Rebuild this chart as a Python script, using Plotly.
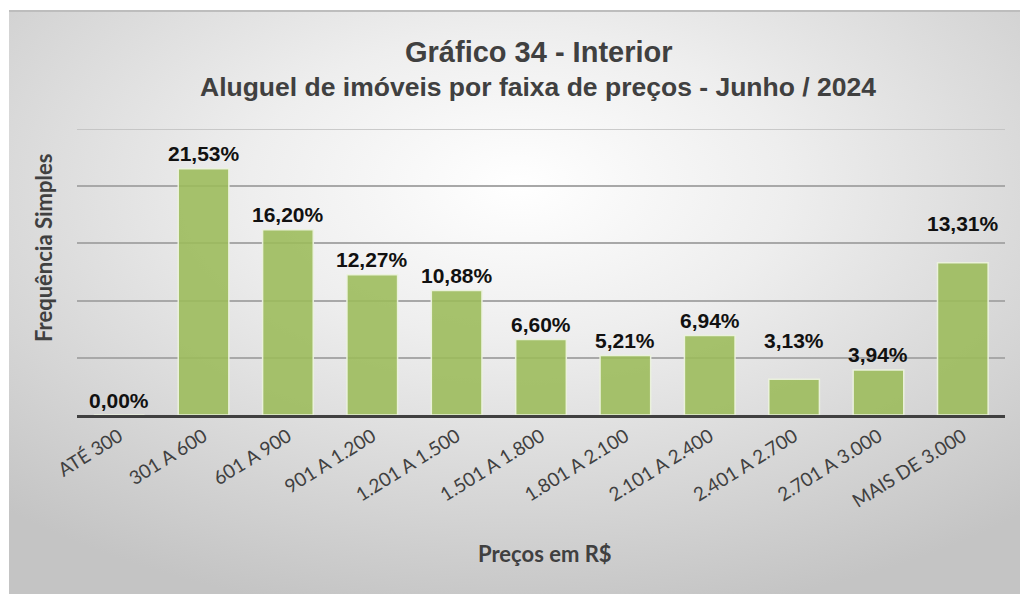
import base64
import plotly.graph_objects as go

# ---- data ----
categories = ["ATÉ 300", "301 A 600", "601 A 900", "901 A 1.200", "1.201 A 1.500",
              "1.501 A 1.800", "1.801 A 2.100", "2.101 A 2.400", "2.401 A 2.700",
              "2.701 A 3.000", "MAIS DE 3.000"]
values = [0.00, 21.53, 16.20, 12.27, 10.88, 6.60, 5.21, 6.94, 3.13, 3.94, 13.31]

title_text = "Gráfico 34 - Interior"
subtitle_text = "Aluguel de imóveis por faixa de preços - Junho / 2024"
x_title = "Preços em R$"
y_title = "Frequência Simples"

Y_MAX = 25
Y_STEP = 5

# ---- layout geometry (pixels, in page coordinates; page has an 8px body margin) ----
OFF = 8
W, H = 1028 - OFF, 594 - OFF
PL, PR, PT, PB = 77, 1005, 129, 415   # plot area in page coordinates
ML, MR, MT, MB = PL - OFF, (1028 - PR), PT - OFF, (594 - PB)
PW, PH = PR - PL, PB - PT

def px(xp):
    return (xp - PL) / PW

def py(yp):
    return (PB - yp) / PH

# extra label lift for labels that were moved in the original
extra_lift = {"2.401 A 2.700": 24, "MAIS DE 3.000": 24}

svg = (
    "<svg xmlns='http://www.w3.org/2000/svg' width='1020' height='584' preserveAspectRatio='none'>"
    "<defs><radialGradient id='g' cx='0.5' cy='0.3' r='0.75'>"
    "<stop offset='0' stop-color='#ffffff'/>"
    "<stop offset='0.35' stop-color='#eeeeee'/>"
    "<stop offset='1' stop-color='#c4c4c4'/>"
    "</radialGradient></defs>"
    "<rect width='1020' height='584' fill='url(#g)'/></svg>"
)
svg_uri = "data:image/svg+xml;base64," + base64.b64encode(svg.encode()).decode()

fig = go.Figure()
fig.add_trace(go.Bar(
    x=categories,
    y=values,
    marker=dict(color="rgba(155,187,89,0.88)",
                line=dict(color="rgba(236,242,222,0.95)", width=1.5)),
    hoverinfo="skip",
))

annotations = []
for c, v in zip(categories, values):
    annotations.append(dict(
        x=c, y=v, xref="x", yref="y",
        text=f"{v:.2f}%".replace(".", ","),
        showarrow=False, yanchor="middle", yshift=15 + extra_lift.get(c, 0),
        font=dict(family="Liberation Sans, Arial", size=21, color="#111111", weight="bold"),
    ))

annotations += [
    dict(x=px(539), y=py(52), xref="paper", yref="paper", text=title_text,
         showarrow=False, xanchor="center", yanchor="middle",
         font=dict(family="Liberation Sans, Arial", size=29, color="#404040", weight="bold")),
    dict(x=px(538), y=py(87), xref="paper", yref="paper", text=subtitle_text,
         showarrow=False, xanchor="center", yanchor="middle",
         font=dict(family="Liberation Sans, Arial", size=26.5, color="#404040", weight="bold")),
    dict(x=px(545), y=py(553), xref="paper", yref="paper", text=x_title,
         showarrow=False, xanchor="center", yanchor="middle",
         font=dict(family="Lato", size=22, color="#404040", weight="bold")),
    dict(x=px(43), y=py(248), xref="paper", yref="paper", text=y_title,
         showarrow=False, xanchor="center", yanchor="middle", textangle=-90,
         font=dict(family="Lato", size=22, color="#404040", weight="bold")),
]

fig.update_layout(
    width=W, height=H,
    margin=dict(l=ML, r=MR, t=MT, b=MB, pad=0),
    paper_bgcolor="#ffffff",
    plot_bgcolor="rgba(0,0,0,0)",
    bargap=0.4,
    showlegend=False,
    annotations=annotations,
    images=[dict(source=svg_uri, xref="paper", yref="paper",
                 x=px(9), y=py(10), sizex=(1028 - 9) / PW, sizey=(594 - 10) / PH,
                 xanchor="left", yanchor="top", sizing="stretch", layer="below")],
    shapes=[
        dict(type="line", xref="paper", yref="paper",
             x0=px(9), x1=px(1028), y0=py(11), y1=py(11),
             line=dict(color="#bdbdbd", width=2)),
        # top gridline (plotly omits the grid line lying on the plot-area edge)
        dict(type="line", xref="paper", yref="y", x0=0, x1=1, y0=Y_MAX, y1=Y_MAX,
             line=dict(color="#bcbcbc", width=1.5), layer="below"),
    ],
    xaxis=dict(
        showline=True, linecolor="#404040", linewidth=3,
        showgrid=False, ticks="", tickangle=-32,
        tickfont=dict(family="Lato", size=19, color="#404040"),
        fixedrange=True,
    ),
    yaxis=dict(
        range=[0, Y_MAX], dtick=Y_STEP, tick0=0, showticklabels=False,
        showgrid=True, gridcolor="#a8a8a8", gridwidth=1.5,
        zeroline=False, showline=False, fixedrange=True,
    ),
)

fig.write_html("out.html", config={"displayModeBar": False})
